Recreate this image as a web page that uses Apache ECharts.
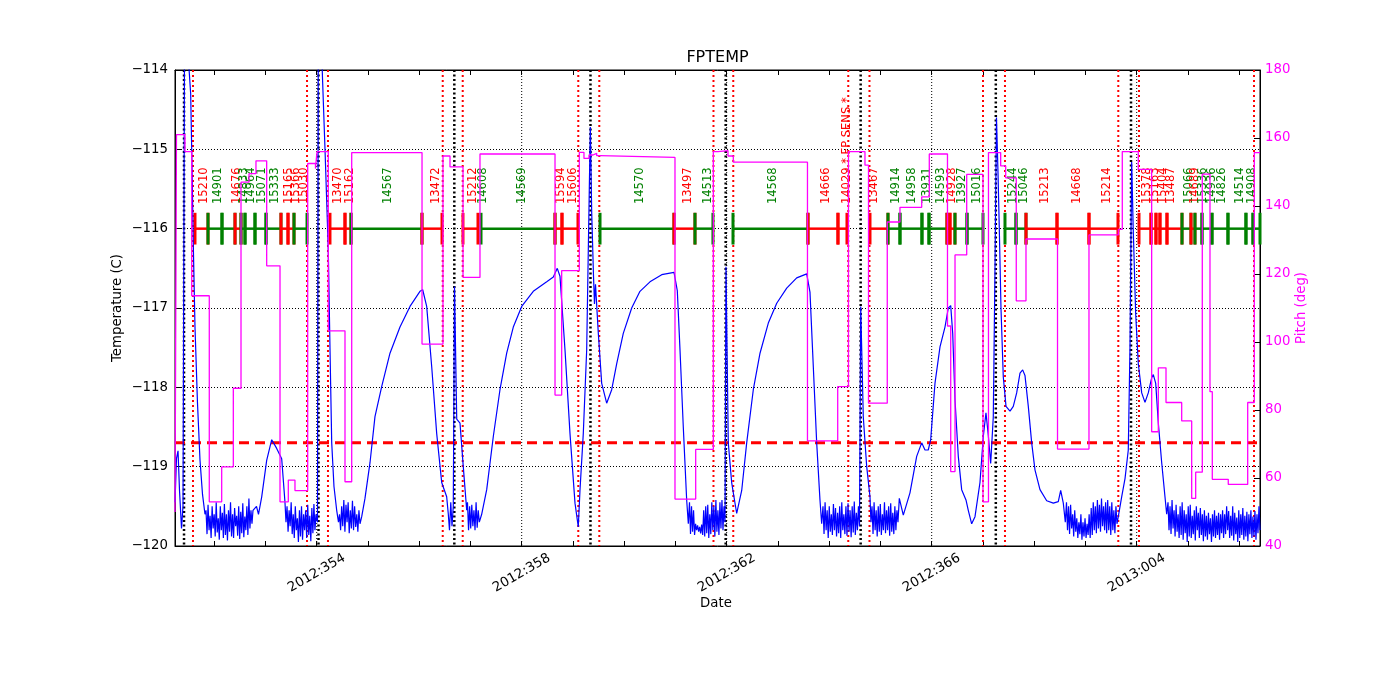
<!DOCTYPE html>
<html><head><meta charset="utf-8">
<script src="https://cdn.jsdelivr.net/npm/echarts@6/dist/echarts.min.js"></script>
<style>html,body{margin:0;padding:0;background:#fff}#c{width:1400px;height:700px}</style>
</head><body><div id="c"></div>
<script>
// ---------------- data ----------------
const xMin = 351.235, xMax = 372.406;          // day of year (2012), continuous
const xLabelDays = [354, 358, 362, 366, 370];
const xTickDays = [352,353,354,355,356,357,358,359,360,361,362,363,364,365,366,367,368,369,370,371,372];
const planLimit = -118.7;

// temperature (deg C): explicit points of the smooth parts and spikes
const tempPoints = [
[351.235,-119.45],[351.264,-118.9],[351.294,-118.8],[351.323,-119.3],[351.362,-119.78],[351.391,-119.5],[351.420,-113.8],[351.469,-113.6],[351.541,-114.3],[351.561,-115.0],[351.592,-116.2],[351.625,-117.24],[351.674,-118.2],[351.723,-118.92],[351.772,-119.35],[351.820,-119.6],
[352.757,-119.55],[352.825,-119.5],[352.864,-119.6],[352.927,-119.38],[353.024,-118.92],[353.122,-118.66],[353.219,-118.77],[353.317,-118.9],[353.352,-119.2],[353.381,-119.45],
[354.015,-119.7],[354.031,-113.6],[354.074,-113.3],[354.113,-114.1],[354.162,-115.0],[354.226,-116.27],[354.259,-117.5],[354.293,-118.7],[354.337,-119.25],[354.390,-119.55],[354.425,-119.7],
[354.878,-119.63],[354.942,-119.4],[355.040,-118.95],[355.137,-118.37],[355.268,-117.99],[355.430,-117.57],[355.625,-117.24],[355.820,-116.98],[356.015,-116.79],[356.068,-116.77],[356.146,-116.98],[356.244,-117.74],[356.341,-118.58],[356.439,-119.2],[356.536,-119.38],[356.568,-119.6],[356.591,-119.8],[356.616,-119.45],[356.640,-119.75],[356.665,-119.5],[356.689,-116.73],[356.732,-118.4],[356.796,-118.45],[356.860,-119.0],[356.927,-119.55],
[357.219,-119.6],[357.317,-119.29],[357.446,-118.62],[357.576,-118.03],[357.707,-117.57],[357.836,-117.24],[358.000,-116.98],[358.226,-116.79],[358.488,-116.67],[358.617,-116.61],[358.694,-116.5],[358.747,-116.6],[358.845,-117.53],[358.942,-118.58],[359.040,-119.46],[359.104,-119.76],[359.137,-119.3],[359.202,-118.58],[359.268,-117.53],[359.319,-115.5],[359.339,-114.72],[359.366,-115.8],[359.401,-116.6],[359.420,-116.95],[359.440,-116.7],[359.495,-117.32],[359.561,-117.95],[359.658,-118.2],[359.756,-118.03],[359.854,-117.7],[359.982,-117.32],[360.146,-117.0],[360.308,-116.79],[360.503,-116.67],[360.732,-116.58],[360.972,-116.55],[361.036,-116.78],[361.089,-117.53],[361.153,-118.5],[361.219,-119.42],[361.251,-119.72],
[361.986,-116.48],[362.031,-118.7],[362.097,-119.2],[362.195,-119.59],[362.293,-119.3],[362.390,-118.7],[362.519,-118.03],[362.650,-117.57],[362.812,-117.19],[362.976,-116.94],[363.171,-116.75],[363.366,-116.62],[363.561,-116.57],[363.625,-116.8],[363.690,-117.74],[363.756,-118.7],[363.820,-119.42],[363.853,-119.72],
[364.615,-116.98],[364.665,-118.37],[364.732,-119.0],[364.796,-119.38],
[365.368,-119.4],[365.446,-119.61],[365.576,-119.33],[365.707,-118.87],[365.805,-118.7],[365.869,-118.79],[365.933,-118.79],[365.980,-118.66],[366.064,-117.95],[366.162,-117.49],[366.259,-117.24],[366.324,-117.0],[366.371,-116.97],[366.410,-117.32],[366.455,-118.16],[366.519,-118.87],[366.585,-119.29],[366.669,-119.42],[366.714,-119.55],[366.780,-119.72],[366.845,-119.63],[366.942,-119.2],[367.007,-118.62],[367.059,-118.32],[367.104,-118.6],[367.151,-118.96],[367.202,-118.37],[367.235,-116.5],[367.264,-114.6],[367.294,-115.3],[367.319,-116.0],[367.352,-117.0],[367.397,-117.87],[367.450,-118.24],[367.528,-118.3],[367.592,-118.24],[367.658,-118.07],[367.723,-117.82],[367.775,-117.78],[367.820,-117.85],[367.885,-118.24],[367.951,-118.7],[368.015,-119.04],[368.113,-119.29],[368.244,-119.43],[368.373,-119.46],[368.470,-119.44],[368.517,-119.3],[368.568,-119.46],[368.607,-119.7],
[369.641,-119.63],[369.707,-119.38],[369.772,-119.15],[369.836,-118.79],[369.869,-117.5],[369.902,-115.16],[369.933,-116.02],[369.980,-117.07],[370.031,-117.7],[370.098,-118.07],[370.162,-118.19],[370.226,-118.07],[370.292,-117.88],[370.324,-117.84],[370.371,-117.95],[370.422,-118.45],[370.488,-118.95],[370.552,-119.38],[370.585,-119.6]
];
// temperature: noisy cold stretches, regularly sampled readings between two times
const noiseStarts = [351.840, 353.401, 354.445, 356.942, 361.274, 363.879, 364.815, 368.630, 370.611];
const noiseEnds   = [352.737, 353.986, 354.845, 357.173, 361.967, 364.591, 365.342, 369.615, 372.406];
const noiseValues = [
[-119.55,-119.85,-119.48,-119.8,-119.62,-119.9,-119.5,-119.78,-119.6,-119.88,-119.45,-119.83,-119.65,-119.92,-119.5,-119.8,-119.58,-119.9,-119.47,-119.86,-119.6,-119.93,-119.55,-119.82,-119.45,-119.88,-119.6,-119.9,-119.52,-119.75,-119.62,-119.87,-119.5,-119.91,-119.57,-119.84,-119.46,-119.89,-119.63,-119.8,-119.5,-119.86,-119.4,-119.78,-119.55,-119.72],
[-119.7,-119.5,-119.82,-119.55,-119.75,-119.45,-119.85,-119.6,-119.9,-119.5,-119.8,-119.65,-119.95,-119.55,-119.88,-119.5,-119.92,-119.6,-119.8,-119.55,-119.9,-119.48,-119.86,-119.62,-119.94,-119.52,-119.84,-119.47,-119.8,-119.6],
[-119.6,-119.8,-119.5,-119.75,-119.42,-119.82,-119.48,-119.7,-119.45,-119.84,-119.55,-119.78,-119.43,-119.8,-119.5,-119.76,-119.6,-119.82,-119.55,-119.72],
[-119.45,-119.8,-119.5,-119.78,-119.48,-119.75,-119.55,-119.8,-119.45,-119.77,-119.55,-119.7],
[-119.45,-119.85,-119.5,-119.82,-119.55,-119.86,-119.72,-119.8,-119.74,-119.82,-119.76,-119.84,-119.73,-119.86,-119.55,-119.88,-119.5,-119.84,-119.48,-119.9,-119.6,-119.85,-119.45,-119.8,-119.5,-119.88,-119.42,-119.82,-119.55,-119.86,-119.45,-119.78,-119.42,-119.8,-119.5,-119.7],
[-119.5,-119.85,-119.45,-119.8,-119.55,-119.9,-119.5,-119.82,-119.6,-119.86,-119.47,-119.8,-119.52,-119.88,-119.58,-119.84,-119.5,-119.9,-119.45,-119.8,-119.6,-119.85,-119.5,-119.87,-119.46,-119.82,-119.55,-119.89,-119.5,-119.83,-119.44,-119.86,-119.58,-119.8,-119.5,-119.75],
[-119.7,-119.5,-119.85,-119.45,-119.8,-119.55,-119.88,-119.5,-119.82,-119.47,-119.86,-119.6,-119.8,-119.45,-119.84,-119.55,-119.8,-119.5,-119.87,-119.46,-119.82,-119.58,-119.85,-119.5,-119.8,-119.55,-119.7],
[-119.45,-119.8,-119.5,-119.85,-119.48,-119.78,-119.6,-119.88,-119.55,-119.82,-119.65,-119.9,-119.7,-119.85,-119.6,-119.92,-119.7,-119.88,-119.65,-119.9,-119.72,-119.86,-119.6,-119.9,-119.52,-119.86,-119.45,-119.8,-119.5,-119.84,-119.42,-119.78,-119.48,-119.82,-119.4,-119.75,-119.5,-119.8,-119.45,-119.84,-119.42,-119.8,-119.5,-119.86,-119.45,-119.8,-119.55,-119.84,-119.5,-119.72],
[-119.45,-119.8,-119.5,-119.85,-119.42,-119.78,-119.55,-119.88,-119.48,-119.82,-119.6,-119.9,-119.5,-119.86,-119.45,-119.92,-119.55,-119.84,-119.6,-119.95,-119.5,-119.88,-119.48,-119.9,-119.62,-119.85,-119.55,-119.93,-119.5,-119.8,-119.58,-119.9,-119.52,-119.86,-119.6,-119.94,-119.55,-119.88,-119.62,-119.92,-119.58,-119.85,-119.65,-119.95,-119.6,-119.88,-119.55,-119.9,-119.62,-119.86,-119.58,-119.92,-119.6,-119.84,-119.55,-119.9,-119.6,-119.85,-119.5,-119.8,-119.56,-119.9,-119.62,-119.87,-119.5,-119.93,-119.58,-119.85,-119.64,-119.95,-119.55,-119.9,-119.6,-119.86,-119.52,-119.92,-119.62,-119.88,-119.57,-119.94,-119.6,-119.85,-119.55,-119.9,-119.63,-119.88,-119.56,-119.92,-119.6,-119.84,-119.5,-119.8]
];

// pitch (deg): value holds from its time to the next
const pitchSteps = [
[351.235,50],[351.264,161],[351.430,156],[351.561,113.6],[351.904,53],[352.146,63.3],[352.373,86.4],[352.523,147],[352.679,149.5],[352.815,153.3],[353.024,122.4],[353.284,53],[353.446,59.4],[353.576,56.3],[353.824,152.5],[353.976,151],[354.006,156],[354.226,103.3],[354.552,58.9],[354.683,155.7],[356.055,99.4],[356.464,154.7],[356.601,151.5],[356.855,119],[357.186,155.3],[358.650,84.4],[358.780,121],[359.124,155.8],[359.215,154],[359.313,155],[359.391,155.5],[359.463,154.8],[359.528,154.3],[360.991,53.8],[361.395,68.4],[361.739,156],[361.830,156.3],[362.025,154.7],[362.129,152.9],[363.576,70.9],[364.166,86.9],[364.376,156],[364.698,152],[364.767,82],[365.133,135.3],[365.381,139.6],[365.805,142.7],[365.953,155.3],[366.308,104.7],[366.371,61.9],[366.455,125.6],[366.683,149.3],[367.001,53],[367.108,155.7],[367.346,151.8],[367.444,148.3],[367.650,112.1],[367.840,130.3],[368.455,68.5],[369.069,131.5],[369.641,133.1],[369.719,156],[370.031,150.8],[370.292,73.6],[370.422,92.4],[370.572,82.2],[370.878,76.8],[371.073,54],[371.151,61.7],[371.280,149.4],[371.430,85.4],[371.475,59.6],[371.787,58.1],[372.166,82.2],[372.295,155.7],[372.406,155.7]
];

const perigeeDays = [351.411, 354.035, 356.685, 359.342, 361.980, 364.614, 367.251, 369.889];
const radZoneDays = [351.586, 353.811, 354.220, 356.459, 356.849, 359.104, 359.514, 361.742, 362.128, 364.372, 364.786, 367.001, 367.430, 369.641, 370.045, 372.289];

// observation segments: start, stop, colour class
const obsSegments = [
[351.625,351.879,'R'],[351.879,352.152,'G'],[352.152,352.406,'G'],[352.406,352.523,'R'],[352.523,352.601,'G'],[352.601,352.796,'G'],[352.796,353.011,'G'],[353.011,353.303,'G'],[353.303,353.440,'R'],[353.440,353.557,'R'],[353.557,353.811,'G'],
[354.259,354.552,'R'],[354.552,354.669,'R'],[354.669,356.054,'G'],[356.054,356.445,'R'],
[356.854,357.147,'R'],[357.206,358.650,'G'],[358.650,358.786,'R'],[358.786,359.098,'R'],
[359.528,360.971,'G'],[360.971,361.381,'R'],[361.381,361.732,'G'],
[362.123,363.586,'G'],[363.586,364.171,'R'],[364.171,364.347,'R'],
[364.796,365.147,'R'],[365.147,365.381,'G'],[365.381,365.810,'G'],[365.810,365.947,'G'],[365.947,366.298,'G'],[366.298,366.357,'R'],[366.357,366.454,'R'],[366.454,366.689,'G'],[366.689,367.001,'G'],
[367.430,367.645,'G'],[367.645,367.840,'G'],[367.840,368.445,'R'],[368.445,369.069,'R'],[369.069,369.635,'R'],
[370.045,370.279,'R'],[370.279,370.376,'R'],[370.376,370.454,'R'],[370.454,370.591,'R'],[370.591,370.884,'R'],[370.884,371.059,'G'],[371.059,371.137,'R'],[371.137,371.274,'G'],[371.274,371.469,'G'],[371.469,371.781,'G'],[371.781,372.132,'G'],[372.132,372.269,'G'],[372.269,372.406,'G']
];
// observation labels: position, text, colour class
const obsLabels = [
[351.807,'15210','R'],[352.068,'14901','G'],[352.451,'14676','R'],[352.581,'14833','G'],[352.712,'14964','G'],[352.933,'15071','G'],[353.180,'15333','G'],[353.453,'15165','R'],[353.602,'15366','R'],[353.752,'15030','R'],
[354.421,'13470','R'],[354.650,'15162','R'],[355.397,'14567','G'],[356.328,'13472','R'],
[357.055,'15212','R'],[357.251,'14608','G'],[358.000,'14569','G'],[358.761,'15594','R'],[359.007,'15606','R'],
[360.308,'14570','G'],[361.239,'13497','R'],[361.641,'14513','G'],
[362.909,'14568','G'],[363.937,'14666','R'],[364.353,'14029 * FP SENS *','R'],
[364.880,'13467','R'],[365.309,'14914','G'],[365.609,'14958','G'],[365.914,'13931','G'],[366.181,'14593','G'],[366.390,'14928','R'],[366.585,'13927','G'],[366.878,'15016','G'],
[367.592,'15244','G'],[367.807,'15046','G'],[368.210,'15213','R'],[368.829,'14668','R'],[369.414,'15214','R'],
[370.195,'15378','R'],[370.357,'15163','R'],[370.507,'15404','R'],[370.663,'13487','R'],[371.026,'15066','G'],[371.137,'14689','R'],[371.299,'15336','G'],[371.463,'14936','G'],[371.658,'14826','G'],[372.015,'14514','G'],[372.243,'14908','G']
];

// ---------------- build ----------------
const COL = {R:'#ff0000', G:'#008000'};
const FONT = '"DejaVu Sans", "Liberation Sans", sans-serif';
let tempData = tempPoints.slice();
noiseValues.forEach((vals, k) => {
  const a = noiseStarts[k], b = noiseEnds[k], n = vals.length;
  vals.forEach((v, i) => tempData.push([a + (b - a) * i / (n - 1), v]));
});
tempData.sort((p, q) => p[0] - q[0]);

function dayLabel(v) {
  const d = Math.round(v);
  if (d > 366) return '2013:' + String(d - 366).padStart(3, '0');
  return '2012:' + String(d).padStart(3, '0');
}
function vLineSeries(days, color, width, dash, z) {
  return {
    type: 'custom', xAxisIndex: 0, yAxisIndex: 0, z: z, silent: true,
    data: days.map(d => [d, -117]),
    renderItem(params, api) {
      const x = api.coord([api.value(0), -117])[0];
      const cs = params.coordSys;
      return {type: 'line', shape: {x1: x, y1: cs.y, x2: x, y2: cs.y + cs.height},
              style: {stroke: color, lineWidth: width, lineDash: dash}};
    }
  };
}

const chart = echarts.init(document.getElementById('c'), null, {renderer: 'canvas'});
chart.setOption({
  animation: false,
  backgroundColor: '#fff',
  textStyle: {fontFamily: FONT},
  grid: {left: 175, right: 140, top: 70, bottom: 154, show: true, borderColor: '#000', borderWidth: 1, containLabel: false},
  graphic: [
    {type: 'text', x: 717.5, y: 58, style: {text: 'FPTEMP', font: '16px ' + FONT, fill: '#000', align: 'center', verticalAlign: 'middle'}},
    {type: 'text', x: 716, y: 604, style: {text: 'Date', font: '13.3px ' + FONT, fill: '#000', align: 'center', verticalAlign: 'middle'}},
    {type: 'text', x: 118, y: 308, rotation: Math.PI / 2, style: {text: 'Temperature (C)', font: '13.3px ' + FONT, fill: '#000', align: 'center', verticalAlign: 'middle'}},
    {type: 'text', x: 1302, y: 308, rotation: Math.PI / 2, style: {text: 'Pitch (deg)', font: '13.3px ' + FONT, fill: '#ff00ff', align: 'center', verticalAlign: 'middle'}}
  ],
  xAxis: [
    {type: 'value', min: xMin, max: xMax, position: 'bottom',
     axisLine: {show: true, lineStyle: {color: '#000', width: 1}},
     axisTick: {show: true, inside: true, length: 5, customValues: xTickDays, lineStyle: {color: '#000'}},
     axisLabel: {show: true, customValues: xLabelDays, rotate: 30, align: 'center', verticalAlign: 'middle', margin: 27,
                 color: '#000', fontSize: 13.3, fontFamily: FONT, formatter: dayLabel},
     splitLine: {show: false}},
    {type: 'value', min: xMin, max: xMax, position: 'top',
     axisLine: {show: true, lineStyle: {color: '#000', width: 1}},
     axisTick: {show: true, inside: true, length: 5, customValues: xTickDays, lineStyle: {color: '#000'}},
     axisLabel: {show: false}, splitLine: {show: false}}
  ],
  yAxis: [
    {type: 'value', min: -120, max: -114, interval: 1, position: 'left',
     axisLine: {show: true, lineStyle: {color: '#000'}},
     axisTick: {show: true, inside: true, length: 6, lineStyle: {color: '#000'}},
     axisLabel: {color: '#000', fontSize: 13.3, fontFamily: FONT, margin: 7, showMinLabel: true, showMaxLabel: true,
                 formatter: v => String(v).replace('-', '\u2212')},
     splitLine: {show: true, lineStyle: {color: '#000', width: 1, type: [1, 2]}}},
    {type: 'value', min: 40, max: 180, interval: 20, position: 'right',
     axisLine: {show: true, lineStyle: {color: '#000'}},
     axisTick: {show: true, inside: true, length: 6, lineStyle: {color: '#000'}},
     axisLabel: {color: '#ff00ff', fontSize: 13.3, fontFamily: FONT, margin: 5, showMinLabel: true, showMaxLabel: true},
     splitLine: {show: false}}
  ],
  series: [
    vLineSeries(xLabelDays, '#000', 1, [1, 2], 1),
    vLineSeries(radZoneDays, '#ff0000', 2, [2, 3], 2),
    vLineSeries(perigeeDays, '#000', 2.5, [2, 2.5], 2),
    {type: 'line', xAxisIndex: 0, yAxisIndex: 0, z: 3, silent: true, showSymbol: false,
     data: [[xMin, planLimit], [xMax, planLimit]],
     lineStyle: {color: '#ff0000', width: 3, type: [10, 6]}},
    {type: 'custom', xAxisIndex: 0, yAxisIndex: 0, z: 4, silent: true,
     data: obsSegments.map(s => [s[0], s[1]]),
     renderItem(params, api) {
       const c = COL[obsSegments[params.dataIndex][2]];
       const p1 = api.coord([api.value(0), -116]);
       const p2 = api.coord([api.value(1), -116]);
       const h = Math.abs(api.coord([xMin, -115.8])[1] - p1[1]);
       return {type: 'group', children: [
         {type: 'line', shape: {x1: p1[0], y1: p1[1], x2: p2[0], y2: p2[1]}, style: {stroke: c, lineWidth: 2.5}},
         {type: 'line', shape: {x1: p1[0], y1: p1[1] - h, x2: p1[0], y2: p1[1] + h}, style: {stroke: c, lineWidth: 3}},
         {type: 'line', shape: {x1: p2[0], y1: p2[1] - h, x2: p2[0], y2: p2[1] + h}, style: {stroke: c, lineWidth: 3}}
       ]};
     }},
    {type: 'custom', xAxisIndex: 0, yAxisIndex: 0, z: 4, silent: true,
     data: obsLabels.map(l => [l[0], -115.69]),
     renderItem(params, api) {
       const l = obsLabels[params.dataIndex];
       const p = api.coord([api.value(0), api.value(1)]);
       return {type: 'text', x: p[0], y: p[1], rotation: Math.PI / 2,
               style: {text: l[1], fill: COL[l[2]], font: '11.5px ' + FONT, align: 'left', verticalAlign: 'middle'}};
     }},
    {type: 'line', name: 'FPTEMP', xAxisIndex: 0, yAxisIndex: 0, z: 5, showSymbol: false, clip: true,
     data: tempData, lineStyle: {color: '#0000ff', width: 1.2}},
    {type: 'line', name: 'Pitch', xAxisIndex: 0, yAxisIndex: 1, z: 6, showSymbol: false, step: 'end', clip: true,
     data: pitchSteps, lineStyle: {color: '#ff00ff', width: 1.3}}
  ]
});
</script>
</body></html>
